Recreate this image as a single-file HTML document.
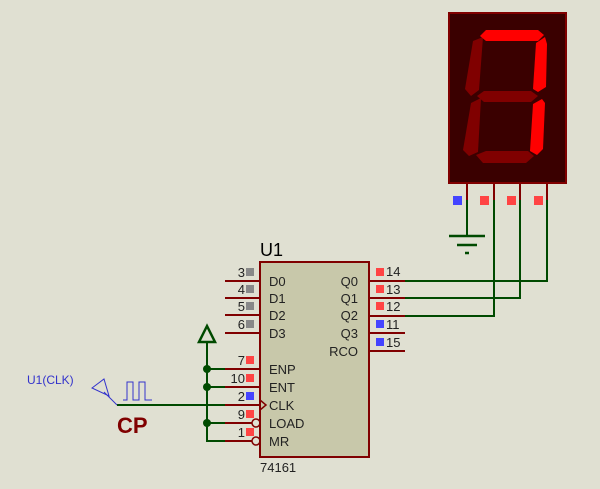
<!DOCTYPE html>
<html><head><style>body{margin:0;background:#e0e0d2}svg{display:block}</style></head><body>
<svg width="600" height="489" viewBox="0 0 600 489" xmlns="http://www.w3.org/2000/svg" font-family="Liberation Sans, sans-serif">
<rect width="600" height="489" fill="#e0e0d2"/>
<!-- display -->
<rect x="449" y="13" width="117" height="170" fill="#3a0000" stroke="#800000" stroke-width="2"/>
<g fill="#800000">
<polygon points="473,41 483,37 479,90 471,96 465,89"/>
<polygon points="477,96 484,91 531,91 538,96 531,102 484,102"/>
<polygon points="471,103 481,98 478,152 469,156 463,150"/>
<polygon points="476,155 486,151 528,151 534,156 526,163 483,163"/>
</g>
<g fill="#ff0000">
<polygon points="480,36 486,30 538,30 544,35 538,41 486,41"/>
<polygon points="536,43 545,37 547,44 546,87 538,92 533,89"/>
<polygon points="533,104 542,99 545,103 543,149 537,155 530,151"/>
</g>
<!-- display pins -->
<g stroke="#800000" stroke-width="2"><line x1="467" y1="183" x2="467" y2="200"/><line x1="494" y1="183" x2="494" y2="200"/><line x1="520" y1="183" x2="520" y2="200"/><line x1="547" y1="183" x2="547" y2="200"/></g>
<g stroke="#004a00" stroke-width="2" fill="none">
<polyline points="467,200 467,236"/>
<line x1="449" y1="236" x2="485" y2="236" stroke-width="2.5"/><line x1="457" y1="245" x2="477" y2="245" stroke-width="2.5"/><line x1="465" y1="253" x2="469" y2="253" stroke-width="2.5"/>
<polyline points="547,200 547,281 405,281"/>
<polyline points="520,200 520,298 405,298"/>
<polyline points="494,200 494,316 405,316"/>
</g>
<rect x="453" y="196" width="9" height="9" fill="#4444ff"/>
<rect x="480" y="196" width="9" height="9" fill="#ff4444"/>
<rect x="507" y="196" width="9" height="9" fill="#ff4444"/>
<rect x="534" y="196" width="9" height="9" fill="#ff4444"/>
<!-- chip -->
<rect x="260" y="262" width="109" height="195" fill="#c8c8aa" stroke="#800000" stroke-width="2"/>
<text x="260" y="256" font-size="18" fill="#000">U1</text>
<text x="260" y="472" font-size="13" fill="#222">74161</text>
<g stroke="#800000" stroke-width="2">
<line x1="225" y1="281" x2="260" y2="281"/><line x1="225" y1="298" x2="260" y2="298"/><line x1="225" y1="315" x2="260" y2="315"/><line x1="225" y1="333" x2="260" y2="333"/>
<line x1="225" y1="369" x2="260" y2="369"/><line x1="225" y1="387" x2="260" y2="387"/><line x1="225" y1="405" x2="260" y2="405"/><line x1="225" y1="423" x2="252" y2="423"/><line x1="225" y1="441" x2="252" y2="441"/>
<line x1="369" y1="281" x2="405" y2="281"/><line x1="369" y1="298" x2="405" y2="298"/><line x1="369" y1="316" x2="405" y2="316"/><line x1="369" y1="333" x2="405" y2="333"/><line x1="369" y1="351" x2="405" y2="351"/>
</g>
<g fill="none" stroke="#800000" stroke-width="1.5"><circle cx="256" cy="423" r="4"/><circle cx="256" cy="441" r="4"/><polyline points="260,400 266,405 260,410"/></g>
<g font-size="13" fill="#222">
<text x="269" y="286">D0</text><text x="269" y="303">D1</text><text x="269" y="320">D2</text><text x="269" y="338">D3</text>
<text x="269" y="374">ENP</text><text x="269" y="392">ENT</text><text x="269" y="410">CLK</text><text x="269" y="428">LOAD</text><text x="269" y="446">MR</text>
<g text-anchor="end"><text x="358" y="286">Q0</text><text x="358" y="303">Q1</text><text x="358" y="320">Q2</text><text x="358" y="338">Q3</text><text x="358" y="356">RCO</text></g>
<g text-anchor="end"><text x="245" y="277">3</text><text x="245" y="294">4</text><text x="245" y="311">5</text><text x="245" y="329">6</text><text x="245" y="365">7</text><text x="245" y="383">10</text><text x="245" y="401">2</text><text x="245" y="419">9</text><text x="245" y="437">1</text></g>
<text x="386" y="276">14</text><text x="386" y="294">13</text><text x="386" y="311">12</text><text x="386" y="329">11</text><text x="386" y="347">15</text>
</g>
<g fill="#888"><rect x="246" y="268" width="8" height="8"/><rect x="246" y="285" width="8" height="8"/><rect x="246" y="302" width="8" height="8"/><rect x="246" y="320" width="8" height="8"/></g>
<g fill="#ff4444"><rect x="246" y="356" width="8" height="8"/><rect x="246" y="374" width="8" height="8"/><rect x="246" y="410" width="8" height="8"/><rect x="246" y="428" width="8" height="8"/>
<rect x="376" y="268" width="8" height="8"/><rect x="376" y="285" width="8" height="8"/><rect x="376" y="302" width="8" height="8"/></g>
<g fill="#4444ff"><rect x="246" y="392" width="8" height="8"/><rect x="376" y="320" width="8" height="8"/><rect x="376" y="338" width="8" height="8"/></g>
<!-- left wiring -->
<g stroke="#004a00" stroke-width="2" fill="none">
<polyline points="207,342 207,441 225,441"/>
<polygon points="207,326 199,342 215,342" stroke-width="2.5"/>
<line x1="207" y1="369" x2="225" y2="369"/><line x1="207" y1="387" x2="225" y2="387"/><line x1="207" y1="423" x2="225" y2="423"/>
<line x1="117" y1="405" x2="225" y2="405"/>
</g>
<g fill="#004a00"><circle cx="207" cy="369" r="4"/><circle cx="207" cy="387" r="4"/><circle cx="207" cy="423" r="4"/></g>
<g stroke="#3333cc" stroke-width="1" fill="none">
<polygon points="92,388 104,379 109,396"/>
<line x1="104" y1="392" x2="117" y2="405"/>
<polyline points="123,400 127,400 127,382 133,382 133,400 139,400 139,382 145,382 145,400 152,400"/>
</g>
<text x="27" y="384" font-size="12" fill="#3333cc">U1(CLK)</text>
<text x="117" y="433" font-size="22" font-weight="bold" fill="#800000">CP</text>
</svg>
</body></html>
